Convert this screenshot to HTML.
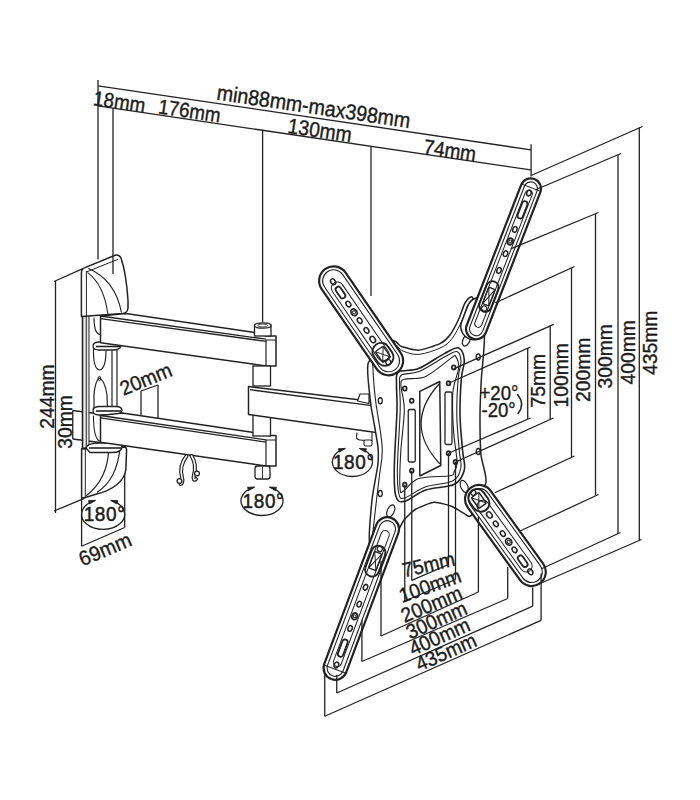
<!DOCTYPE html>
<html><head><meta charset="utf-8"><style>
html,body{margin:0;padding:0;background:#fff;}
svg{display:block;}
text{font-family:"Liberation Sans",sans-serif;}
</style></head><body>
<svg width="700" height="800" viewBox="0 0 700 800">
<rect width="700" height="800" fill="#fff"/>
<line x1="98.00" y1="85.80" x2="531.00" y2="149.88" stroke="#222222" stroke-width="1.3"/>
<line x1="98.00" y1="105.90" x2="531.00" y2="169.98" stroke="#222222" stroke-width="1.3"/>
<line x1="98.00" y1="80.00" x2="98.00" y2="259.50" stroke="#222222" stroke-width="1.3"/>
<line x1="113.00" y1="108.12" x2="113.00" y2="274.00" stroke="#222222" stroke-width="1.3"/>
<line x1="262.60" y1="130.26" x2="262.60" y2="322.00" stroke="#222222" stroke-width="1.3"/>
<line x1="371.00" y1="146.30" x2="371.00" y2="296.00" stroke="#222222" stroke-width="1.3"/>
<line x1="531.10" y1="144.30" x2="531.10" y2="176.40" stroke="#222222" stroke-width="1.3"/>
<text x="0" y="0" font-size="18.8" text-anchor="start" fill="#1c1c1c" stroke="#1c1c1c" stroke-width="0.35" transform="translate(92.5 105) rotate(8.41866287779965) scale(1 1.1)">18mm</text>
<text x="0" y="0" font-size="18.8" text-anchor="start" fill="#1c1c1c" stroke="#1c1c1c" stroke-width="0.35" transform="translate(157.5 113.3) rotate(8.41866287779965) scale(1 1.1)">176mm</text>
<text x="0" y="0" font-size="19.65" text-anchor="start" fill="#1c1c1c" stroke="#1c1c1c" stroke-width="0.35" transform="translate(216 99.5) rotate(8.41866287779965) scale(1 1.1)">min88mm-max398mm</text>
<text x="0" y="0" font-size="19.3" text-anchor="start" fill="#1c1c1c" stroke="#1c1c1c" stroke-width="0.35" transform="translate(287 132.8) rotate(8.41866287779965) scale(1 1.1)">130mm</text>
<text x="0" y="0" font-size="19" text-anchor="start" fill="#1c1c1c" stroke="#1c1c1c" stroke-width="0.35" transform="translate(422.8 153.6) rotate(8.41866287779965) scale(1 1.1)">74mm</text>
<line x1="55.50" y1="281.00" x2="55.50" y2="513.00" stroke="#222222" stroke-width="1.3"/>
<line x1="54.00" y1="281.50" x2="82.90" y2="268.60" stroke="#222222" stroke-width="1.3"/>
<line x1="54.00" y1="511.00" x2="84.40" y2="498.40" stroke="#222222" stroke-width="1.3"/>
<text x="0" y="0" font-size="19.3" text-anchor="middle" fill="#1c1c1c" stroke="#1c1c1c" stroke-width="0.35" transform="translate(54 396.6) rotate(-90) scale(1.0 1.0)">244mm</text>
<line x1="72.75" y1="410.50" x2="72.75" y2="439.00" stroke="#222222" stroke-width="1.3"/>
<line x1="72.75" y1="410.50" x2="100.00" y2="414.00" stroke="#222222" stroke-width="1.3"/>
<line x1="72.75" y1="439.00" x2="100.00" y2="442.50" stroke="#222222" stroke-width="1.3"/>
<text x="0" y="0" font-size="19.3" text-anchor="middle" fill="#1c1c1c" stroke="#1c1c1c" stroke-width="0.35" transform="translate(72 422) rotate(-90) scale(1.0 1.0)">30mm</text>
<rect x="82.5" y="316" width="6.5" height="136" fill="#e9e9e9" stroke="none"/>
<path d="M82.5,316 L82.5,452" fill="none" stroke="#222222" stroke-width="1.6" stroke-linejoin="round" stroke-linecap="round"/>
<line x1="86.25" y1="316.00" x2="86.25" y2="452.00" stroke="#222222" stroke-width="1.0"/>
<line x1="89.00" y1="316.00" x2="89.00" y2="452.00" stroke="#222222" stroke-width="1.0"/>
<path d="M94,318 Q94,333 99.5,334.5" fill="none" stroke="#222222" stroke-width="1.1" stroke-linejoin="round" stroke-linecap="round"/>
<path d="M93.5,348 Q93,369 99.5,370 Q106,369 106,350" fill="none" stroke="#222222" stroke-width="1.2" stroke-linejoin="round" stroke-linecap="round"/>
<path d="M94,412 L94,395 Q95,381 99.5,378 Q105,381 107,395 L107.5,410" fill="none" stroke="#222222" stroke-width="1.2" stroke-linejoin="round" stroke-linecap="round"/>
<ellipse cx="99.4" cy="378.4" rx="1.4" ry="2.0" fill="none" stroke="#222222" stroke-width="1.0" transform="rotate(0 99.4 378.4)"/>
<path d="M93.5,416 Q93.5,438 99.5,441" fill="none" stroke="#222222" stroke-width="1.1" stroke-linejoin="round" stroke-linecap="round"/>
<path d="M81.4,316.4 L81.4,273 Q81.5,268.6 85,267.6 L115.7,255 Q119.5,254.5 121,258 Q126,272 128,300 L128,308 Q127.5,313 123,313.5 Z" fill="#fff" stroke="#222222" stroke-width="1.5" stroke-linejoin="round" stroke-linecap="round"/>
<line x1="86.40" y1="271.00" x2="86.40" y2="316.00" stroke="#222222" stroke-width="1.0"/>
<line x1="86.80" y1="271.80" x2="118.20" y2="259.20" stroke="#222222" stroke-width="1.0"/>
<path d="M87.9,272.9 Q104,285 107.9,314.3" fill="none" stroke="#222222" stroke-width="1.1" stroke-linejoin="round" stroke-linecap="round"/>
<path d="M88.6,268.6 Q115,280 121.4,312.1" fill="none" stroke="#222222" stroke-width="1.1" stroke-linejoin="round" stroke-linecap="round"/>
<line x1="113.00" y1="256.00" x2="113.00" y2="274.00" stroke="#222222" stroke-width="1.3"/>
<path d="M81.6,448.8 L124,446.9 Q126.6,447 126.6,450 L125.8,470 C124,482 112,490 97.5,493.8 L84.4,497.8 L81.6,497.5 Z" fill="#fff" stroke="#222222" stroke-width="1.5" stroke-linejoin="round" stroke-linecap="round"/>
<path d="M83,448.5 L125,446.5" fill="none" stroke="#222222" stroke-width="2.2" stroke-linejoin="round" stroke-linecap="round"/>
<line x1="85.30" y1="449.00" x2="85.30" y2="497.00" stroke="#222222" stroke-width="1.0"/>
<path d="M108.75,449 C108,470 100,485 86.5,495.5" fill="none" stroke="#222222" stroke-width="1.2" stroke-linejoin="round" stroke-linecap="round"/>
<path d="M120,448 C118,468 110,484 97.5,492" fill="none" stroke="#222222" stroke-width="1.2" stroke-linejoin="round" stroke-linecap="round"/>
<line x1="81.60" y1="497.50" x2="81.60" y2="546.25" stroke="#222222" stroke-width="1.3"/>
<line x1="124.70" y1="473.00" x2="124.70" y2="527.50" stroke="#222222" stroke-width="1.3"/>
<line x1="81.60" y1="546.25" x2="124.70" y2="527.50" stroke="#222222" stroke-width="1.3"/>
<text x="0" y="0" font-size="19.8" text-anchor="start" fill="#1c1c1c" stroke="#1c1c1c" stroke-width="0.35" transform="translate(82.5 566.5) rotate(-23) scale(1 1.05)">69mm</text>
<path d="M94.70,500.59 A21.5,15 0 1 0 111.50,500.59" fill="none" stroke="#222222" stroke-width="1.3"/>
<polygon points="95.66,500.31 89.46,504.02 88.44,500.57" fill="#222222" stroke="#222222" stroke-width="0.8" stroke-linejoin="round"/>
<polygon points="110.54,500.31 117.76,500.57 116.74,504.02" fill="#222222" stroke="#222222" stroke-width="0.8" stroke-linejoin="round"/>
<text x="0" y="0" font-size="19" text-anchor="middle" letter-spacing="0.6" fill="#1c1c1c" stroke="#1c1c1c" stroke-width="0.45" transform="translate(104.5 521.1999999999999) scale(1 1.06)">180°</text>
<path d="M253.79,487.27 A21,14.7 0 1 0 270.21,487.27" fill="none" stroke="#222222" stroke-width="1.3"/>
<polygon points="254.75,486.98 248.56,490.70 247.53,487.25" fill="#222222" stroke="#222222" stroke-width="0.8" stroke-linejoin="round"/>
<polygon points="269.25,486.98 276.47,487.25 275.44,490.70" fill="#222222" stroke="#222222" stroke-width="0.8" stroke-linejoin="round"/>
<text x="0" y="0" font-size="19" text-anchor="middle" letter-spacing="0.6" fill="#1c1c1c" stroke="#1c1c1c" stroke-width="0.45" transform="translate(263.4 507.6) scale(1 1.06)">180°</text>
<path d="M344.59,448.65 A20,14.5 0 1 0 360.21,448.65" fill="none" stroke="#222222" stroke-width="1.3"/>
<polygon points="345.54,448.36 339.38,452.14 338.32,448.70" fill="#222222" stroke="#222222" stroke-width="0.8" stroke-linejoin="round"/>
<polygon points="359.26,448.36 366.48,448.70 365.42,452.14" fill="#222222" stroke="#222222" stroke-width="0.8" stroke-linejoin="round"/>
<text x="0" y="0" font-size="19" text-anchor="middle" letter-spacing="0.6" fill="#1c1c1c" stroke="#1c1c1c" stroke-width="0.45" transform="translate(353.79999999999995 468.8) scale(1 1.06)">180°</text>
<line x1="141.00" y1="391.00" x2="141.00" y2="421.00" stroke="#222222" stroke-width="1.3"/>
<line x1="158.00" y1="385.00" x2="158.00" y2="418.00" stroke="#222222" stroke-width="1.3"/>
<line x1="141.00" y1="391.00" x2="158.00" y2="385.00" stroke="#222222" stroke-width="1.3"/>
<text x="0" y="0" font-size="19.5" text-anchor="start" fill="#1c1c1c" stroke="#1c1c1c" stroke-width="0.35" transform="translate(123.5 396) rotate(-22.5) scale(1 1.05)">20mm</text>
<line x1="112.00" y1="350.00" x2="112.00" y2="407.00" stroke="#222222" stroke-width="1.2"/>
<line x1="117.00" y1="350.00" x2="117.00" y2="407.00" stroke="#222222" stroke-width="1.2"/>
<path d="M93,346 Q93,342 100,342 L116,342 Q122,342 121,346 Q120,350 112,350 L99,350 Q93,350 93,346 Z" fill="#fff" stroke="#222222" stroke-width="1.3" stroke-linejoin="round" stroke-linecap="round"/>
<line x1="96.00" y1="346.50" x2="120.00" y2="346.50" stroke="#222222" stroke-width="1.6"/>
<path d="M93,410.5 Q93,406.5 100,406.5 L116,406.5 Q122,406.5 122,410.5 Q121,415 112,415 L99,415 Q93,415 93,410.5 Z" fill="#fff" stroke="#222222" stroke-width="1.3" stroke-linejoin="round" stroke-linecap="round"/>
<line x1="96.00" y1="411.00" x2="121.00" y2="411.00" stroke="#222222" stroke-width="1.6"/>
<path d="M86,448 Q87,443 100,443 L116,443 Q122,443 122,447.5 Q121,452.5 112,452.5 L90,452.5 Z" fill="#fff" stroke="#222222" stroke-width="1.3" stroke-linejoin="round" stroke-linecap="round"/>
<line x1="89.00" y1="448.00" x2="121.00" y2="448.00" stroke="#222222" stroke-width="1.6"/>
<polygon points="100.50,316.00 125.90,313.40 253.00,332.30 266.00,336.00 276.00,336.00 276.00,366.00 266.00,366.00 100.50,342.70" fill="#fff" stroke="#222222" stroke-width="1.5" stroke-linejoin="round"/>
<line x1="100.50" y1="316.00" x2="266.00" y2="339.20" stroke="#222222" stroke-width="1.3"/>
<line x1="100.50" y1="318.60" x2="266.00" y2="341.40" stroke="#222222" stroke-width="1.3"/>
<line x1="266.00" y1="340.00" x2="276.00" y2="340.00" stroke="#222222" stroke-width="1.0"/>
<line x1="266.00" y1="340.00" x2="266.00" y2="366.00" stroke="#222222" stroke-width="1.2"/>
<rect x="254.5" y="325" width="16.5" height="11" fill="#fff" stroke="#222222" stroke-width="1.3"/>
<ellipse cx="262.75" cy="325.5" rx="8.25" ry="2.6" fill="#fff" stroke="#222222" stroke-width="1.2" transform="rotate(0 262.75 325.5)"/>
<ellipse cx="262.75" cy="325.5" rx="5" ry="1.5" fill="none" stroke="#222222" stroke-width="0.9" transform="rotate(0 262.75 325.5)"/>
<rect x="253" y="366" width="17.5" height="20" fill="#fff" stroke="#222222" stroke-width="1.3"/>
<polygon points="100.50,415.50 122.40,413.10 252.00,432.30 266.00,435.50 276.00,435.50 276.00,466.00 266.00,466.00 100.50,442.30" fill="#fff" stroke="#222222" stroke-width="1.5" stroke-linejoin="round"/>
<line x1="100.50" y1="415.50" x2="266.00" y2="439.80" stroke="#222222" stroke-width="1.3"/>
<line x1="100.50" y1="417.80" x2="266.00" y2="442.10" stroke="#222222" stroke-width="1.3"/>
<line x1="266.00" y1="440.00" x2="276.00" y2="440.00" stroke="#222222" stroke-width="1.0"/>
<line x1="266.00" y1="440.00" x2="266.00" y2="466.00" stroke="#222222" stroke-width="1.2"/>
<rect x="253" y="415" width="17.5" height="21" fill="#fff" stroke="#222222" stroke-width="1.3"/>
<rect x="255" y="466" width="15" height="13" rx="2.5" fill="#fff" stroke="#222222" stroke-width="1.3"/>
<line x1="262.50" y1="467.00" x2="262.50" y2="479.00" stroke="#222222" stroke-width="0.9"/>
<polygon points="248.50,386.50 369.00,401.00 376.00,403.00 376.00,432.50 248.50,414.50" fill="#fff" stroke="#222222" stroke-width="1.5" stroke-linejoin="round"/>
<line x1="250.00" y1="389.70" x2="372.00" y2="405.70" stroke="#222222" stroke-width="1.3"/>
<polygon points="357.50,401.00 360.00,394.00 369.00,394.00 369.00,403.50" fill="#fff" stroke="#222222" stroke-width="1.2" stroke-linejoin="round"/>
<path d="M357,433 Q355,440 360,440 L372,441 L372,433" fill="#fff" stroke="#222222" stroke-width="1.1" stroke-linejoin="round" stroke-linecap="round"/>
<rect x="364" y="440" width="8" height="6" rx="1.5" fill="#fff" stroke="#222222" stroke-width="1.1"/>
<path d="M186.5,456 C182,462 180,470 182,477 C183,481 182,484 180.5,484" fill="none" stroke="#222222" stroke-width="4" stroke-linecap="round"/>
<path d="M186.5,456 C182,462 180,470 182,477 C183,481 182,484 180.5,484" fill="none" stroke="#fff" stroke-width="1.6" stroke-linecap="round"/>
<path d="M191.5,456 C195.5,462 195.5,470 193.8,476 C193,479 194,481 196,479" fill="none" stroke="#222222" stroke-width="4" stroke-linecap="round"/>
<path d="M191.5,456 C195.5,462 195.5,470 193.8,476 C193,479 194,481 196,479" fill="none" stroke="#fff" stroke-width="1.6" stroke-linecap="round"/>
<ellipse cx="179.5" cy="481" rx="2.4" ry="2.4" fill="#fff" stroke="#222222" stroke-width="1.3" transform="rotate(0 179.5 481)"/>
<ellipse cx="197" cy="473.5" rx="2.4" ry="2.4" fill="#fff" stroke="#222222" stroke-width="1.3" transform="rotate(0 197 473.5)"/>
<path d="M392.50,341.00 C395.82,339.35 398.79,345.58 401.40,346.50 C404.01,347.42 414.74,350.49 418.60,350.20 C422.46,349.91 436.86,345.12 440.00,343.60 C443.14,342.08 448.10,337.51 450.00,335.00 C451.90,332.49 457.50,321.70 459.00,318.50 C460.50,315.30 463.64,305.08 465.00,303.00 C466.36,300.92 470.67,294.50 472.60,297.70 C474.53,300.90 483.42,326.98 484.30,335.00 C485.18,343.02 481.83,369.90 481.40,377.90 C480.97,385.90 480.04,407.29 480.00,415.00 C479.96,422.71 480.40,448.30 481.00,455.00 C481.60,461.70 486.96,475.97 486.00,482.00 C485.04,488.03 473.60,512.16 471.40,515.30 C469.20,518.44 465.94,514.28 464.00,513.40 C462.06,512.52 454.97,507.61 452.00,506.50 C449.03,505.39 437.90,502.05 434.30,502.30 C430.70,502.55 419.03,507.23 416.00,509.00 C412.97,510.77 406.07,517.51 404.00,520.00 C401.93,522.49 398.70,531.40 395.30,533.90 C391.90,536.40 372.33,548.39 370.00,545.00 C367.67,541.61 371.22,508.00 372.00,500.00 C372.78,492.00 377.20,470.25 377.80,465.00 C378.40,459.75 378.43,452.00 378.00,447.50 C377.57,443.00 374.23,424.38 373.50,420.00 C372.77,415.62 371.28,409.45 370.75,403.75 C370.22,398.05 366.02,369.27 368.20,363.00 C370.38,356.73 389.18,342.65 392.50,341.00 Z" fill="#fff" stroke="#222222" stroke-width="1.5" stroke-linejoin="round" stroke-linecap="round"/>
<path d="M397.00,345.50 C398.00,346.42 399.33,349.52 403.00,351.00 C406.67,352.48 412.67,354.97 419.00,354.40 C425.33,353.83 435.50,350.23 441.00,347.60 C446.50,344.97 448.58,342.95 452.00,338.60 C455.42,334.25 458.92,327.10 461.50,321.50 C464.08,315.90 466.50,307.75 467.50,305.00 " fill="none" stroke="#222222" stroke-width="1.0" stroke-linejoin="round" stroke-linecap="round"/>
<path d="M372.50,362.00 C372.75,365.83 373.42,378.04 374.00,385.00 C374.58,391.96 374.63,393.33 376.00,403.75 C377.37,414.17 381.62,435.62 382.20,447.50 C382.78,459.38 380.45,466.25 379.50,475.00 C378.55,483.75 377.75,489.17 376.50,500.00 C375.25,510.83 373.17,530.00 372.00,540.00 C370.83,550.00 369.92,556.67 369.50,560.00 " fill="none" stroke="#222222" stroke-width="1.1" stroke-linejoin="round" stroke-linecap="round"/>
<path d="M398.60,372.00 C402.28,369.43 410.98,371.67 418.60,368.60 C426.22,365.53 437.63,357.05 444.30,353.60 C450.97,350.15 455.27,346.83 458.60,347.90 C461.93,348.97 463.83,355.00 464.30,360.00 C464.77,365.00 462.12,368.73 461.40,377.90 C460.68,387.07 459.82,402.98 460.00,415.00 C460.18,427.02 461.78,440.83 462.50,450.00 C463.22,459.17 465.67,464.28 464.30,470.00 C462.93,475.72 460.73,480.97 454.30,484.30 C447.87,487.63 434.03,487.15 425.70,490.00 C417.37,492.85 409.30,500.45 404.30,501.40 C399.30,502.35 397.37,501.43 395.70,495.70 C394.03,489.97 394.08,481.28 394.30,467.00 C394.52,452.72 396.63,423.83 397.00,410.00 C397.37,396.17 396.23,390.33 396.50,384.00 C396.77,377.67 394.92,374.57 398.60,372.00 Z" fill="#fff" stroke="#222222" stroke-width="1.6" stroke-linejoin="round" stroke-linecap="round"/>
<path d="M401.50,375.00 C404.73,372.77 411.78,374.63 419.00,371.60 C426.22,368.57 438.50,360.15 444.80,356.80 C451.10,353.45 454.10,350.80 456.80,351.50 C459.50,352.20 460.77,356.58 461.00,361.00 C461.23,365.42 458.90,369.00 458.20,378.00 C457.50,387.00 456.63,403.00 456.80,415.00 C456.97,427.00 458.53,441.17 459.20,450.00 C459.87,458.83 461.92,462.83 460.80,468.00 C459.68,473.17 458.43,477.83 452.50,481.00 C446.57,484.17 433.20,484.17 425.20,487.00 C417.20,489.83 408.90,496.92 404.50,498.00 C400.10,499.08 399.98,498.67 398.80,493.50 C397.62,488.33 397.17,480.92 397.40,467.00 C397.63,453.08 399.83,423.67 400.20,410.00 C400.57,396.33 399.38,390.83 399.60,385.00 C399.82,379.17 398.27,377.23 401.50,375.00 Z" fill="none" stroke="#222222" stroke-width="1.1" stroke-linejoin="round" stroke-linecap="round"/>
<path d="M404.30,379.30 C408.42,377.70 417.85,379.97 425.70,376.40 C433.55,372.83 446.40,361.23 451.40,357.90 C456.40,354.57 454.50,354.72 455.70,356.40 C456.90,358.08 459.07,362.05 458.60,368.00 C458.13,373.95 453.75,381.77 452.90,392.10 C452.05,402.43 452.82,418.35 453.50,430.00 C454.18,441.65 456.92,455.00 457.00,462.00 C457.08,469.00 455.17,469.72 454.00,472.00 C452.83,474.28 455.90,474.60 450.00,475.70 C444.10,476.80 426.35,476.05 418.60,478.60 C410.85,481.15 406.60,489.43 403.50,491.00 C400.40,492.57 400.47,494.35 400.00,488.00 C399.53,481.65 399.98,465.90 400.70,452.90 C401.42,439.90 404.25,421.15 404.30,410.00 C404.35,398.85 401.00,391.12 401.00,386.00 C401.00,380.88 400.18,380.90 404.30,379.30 Z" fill="none" stroke="#222222" stroke-width="1.1" stroke-linejoin="round" stroke-linecap="round"/>
<polygon points="419.80,391.30 439.75,381.50 440.80,465.50 419.80,476.00" fill="none" stroke="#222222" stroke-width="1.5" stroke-linejoin="round"/>
<path d="M439,384 Q403,424 439.5,463.5" fill="none" stroke="#222222" stroke-width="1.2" stroke-linejoin="round" stroke-linecap="round"/>
<rect x="408.25" y="409.5" width="7" height="52.5" rx="1.5" fill="none" stroke="#222222" stroke-width="1.3"/>
<rect x="445" y="392" width="7" height="52.5" rx="1.5" fill="none" stroke="#222222" stroke-width="1.3"/>
<ellipse cx="404.75" cy="388.5" rx="1.9" ry="2.1" fill="none" stroke="#222222" stroke-width="1.7" transform="rotate(0 404.75 388.5)"/>
<ellipse cx="411.75" cy="400.75" rx="1.9" ry="2.1" fill="none" stroke="#222222" stroke-width="1.7" transform="rotate(0 411.75 400.75)"/>
<ellipse cx="453.75" cy="367.5" rx="1.9" ry="2.1" fill="none" stroke="#222222" stroke-width="1.7" transform="rotate(0 453.75 367.5)"/>
<ellipse cx="448.5" cy="383.25" rx="1.9" ry="2.1" fill="none" stroke="#222222" stroke-width="1.7" transform="rotate(0 448.5 383.25)"/>
<ellipse cx="448.5" cy="453.25" rx="1.9" ry="2.1" fill="none" stroke="#222222" stroke-width="1.7" transform="rotate(0 448.5 453.25)"/>
<ellipse cx="455.5" cy="462" rx="1.9" ry="2.1" fill="none" stroke="#222222" stroke-width="1.7" transform="rotate(0 455.5 462)"/>
<ellipse cx="411.75" cy="470.75" rx="1.9" ry="2.1" fill="none" stroke="#222222" stroke-width="1.7" transform="rotate(0 411.75 470.75)"/>
<ellipse cx="404.75" cy="484.75" rx="1.9" ry="2.1" fill="none" stroke="#222222" stroke-width="1.7" transform="rotate(0 404.75 484.75)"/>
<ellipse cx="380.25" cy="400.75" rx="2.0" ry="3.0" fill="none" stroke="#222222" stroke-width="1.3" transform="rotate(0 380.25 400.75)"/>
<ellipse cx="380.25" cy="493.5" rx="2.0" ry="3.0" fill="none" stroke="#222222" stroke-width="1.3" transform="rotate(0 380.25 493.5)"/>
<ellipse cx="478.25" cy="357" rx="2.0" ry="3.0" fill="none" stroke="#222222" stroke-width="1.3" transform="rotate(0 478.25 357)"/>
<ellipse cx="478.25" cy="451.5" rx="2.0" ry="3.0" fill="none" stroke="#222222" stroke-width="1.3" transform="rotate(0 478.25 451.5)"/>
<ellipse cx="466.5" cy="340" rx="3.4" ry="6.5" fill="none" stroke="#222222" stroke-width="1.3" transform="rotate(25 466.5 340)"/>
<ellipse cx="464.25" cy="486.5" rx="3.4" ry="6.5" fill="none" stroke="#222222" stroke-width="1.2" transform="rotate(-25 464.25 486.5)"/>
<ellipse cx="390.75" cy="511" rx="3.4" ry="6.5" fill="none" stroke="#222222" stroke-width="1.2" transform="rotate(25 390.75 511)"/>
<g transform="translate(361.1 320.8) rotate(55.5)">
<rect x="-63.0" y="-14.5" width="126" height="29" rx="14.5" fill="#fff" stroke="#222222" stroke-width="2.2"/>
<rect x="-59.5" y="-11.0" width="119.0" height="22.0" rx="11.0" fill="none" stroke="#222222" stroke-width="1.1"/>
<rect x="-46.5" y="-5.09" width="93.0" height="12.18" rx="6.09" fill="none" stroke="#222222" stroke-width="1.0"/>
<ellipse cx="-48.0" cy="1.0" rx="3.1" ry="2.2319999999999998" fill="none" stroke="#222222" stroke-width="1.5"/>
<rect x="-41.5" y="-1.7000000000000002" width="13.0" height="5.4" rx="2.7" fill="none" stroke="#222222" stroke-width="1.8"/>
<ellipse cx="-21.0" cy="1.0" rx="3" ry="2.16" fill="none" stroke="#222222" stroke-width="1.5"/>
<ellipse cx="-11.0" cy="1.0" rx="3.6" ry="2.8800000000000003" fill="none" stroke="#222222" stroke-width="1.7"/>
<ellipse cx="-11.0" cy="1.0" rx="1.62" ry="1.4400000000000002" fill="none" stroke="#222222" stroke-width="1.0"/>
<ellipse cx="-1.0" cy="1.0" rx="3" ry="2.16" fill="none" stroke="#222222" stroke-width="1.5"/>
<ellipse cx="11.0" cy="1.0" rx="3" ry="2.16" fill="none" stroke="#222222" stroke-width="1.5"/>
<ellipse cx="22.0" cy="1.0" rx="3.4" ry="2.448" fill="none" stroke="#222222" stroke-width="1.5"/>
<rect x="28.0" y="-7.699999999999999" width="24" height="17.4" rx="8.7" fill="none" stroke="#222222" stroke-width="1.9"/>
<rect x="33.4" y="-3.785" width="13.200000000000001" height="9.57" rx="1.5" fill="none" stroke="#222222" stroke-width="1.4"/>
<line x1="33.4" y1="-3.785" x2="46.6" y2="5.785" stroke="#222222" stroke-width="1.0"/>
<line x1="33.4" y1="5.785" x2="46.6" y2="-3.785" stroke="#222222" stroke-width="1.0"/>
<ellipse cx="49.6" cy="1.0" rx="2.6" ry="2.6" fill="none" stroke="#222222" stroke-width="1.3"/>
</g>
<g transform="translate(503.5 258.8) rotate(111.2)">
<rect x="43.5" y="-10.25" width="43.5" height="26.5" rx="13.25" fill="#fff" stroke="#222222" stroke-width="1.5"/>
<rect x="-85.5" y="-10.25" width="171" height="20.5" rx="10.25" fill="#fff" stroke="#222222" stroke-width="2.2"/>
<rect x="-82.0" y="-6.75" width="164.0" height="13.5" rx="6.75" fill="none" stroke="#222222" stroke-width="1.1"/>
<line x1="-76.275" y1="-10.25" x2="-76.275" y2="10.25" stroke="#222222" stroke-width="0.9"/>
<rect x="-73.25" y="-3.5875" width="146.5" height="7.175" rx="3.5875" fill="none" stroke="#222222" stroke-width="1.0"/>
<ellipse cx="-70.5" cy="0" rx="3.0" ry="2.16" fill="none" stroke="#222222" stroke-width="1.5"/>
<rect x="-61.5" y="-2.7" width="18" height="5.4" rx="2.7" fill="none" stroke="#222222" stroke-width="1.8"/>
<ellipse cx="-31.5" cy="0" rx="2.9" ry="2.088" fill="none" stroke="#222222" stroke-width="1.5"/>
<ellipse cx="-18.5" cy="0" rx="3.4" ry="2.72" fill="none" stroke="#222222" stroke-width="1.7"/>
<ellipse cx="-18.5" cy="0" rx="1.53" ry="1.36" fill="none" stroke="#222222" stroke-width="1.0"/>
<ellipse cx="-5.5" cy="0" rx="2.9" ry="2.088" fill="none" stroke="#222222" stroke-width="1.5"/>
<ellipse cx="12.5" cy="0" rx="2.9" ry="2.088" fill="none" stroke="#222222" stroke-width="1.5"/>
<rect x="24.5" y="-6.1499999999999995" width="32" height="12.299999999999999" rx="6.1499999999999995" fill="none" stroke="#222222" stroke-width="1.9"/>
<rect x="31.7" y="-3.3825" width="17.6" height="6.765" rx="1.5" fill="none" stroke="#222222" stroke-width="1.4"/>
<line x1="31.7" y1="-3.3825" x2="49.3" y2="3.3825" stroke="#222222" stroke-width="1.0"/>
<line x1="31.7" y1="3.3825" x2="49.3" y2="-3.3825" stroke="#222222" stroke-width="1.0"/>
<ellipse cx="53.3" cy="0" rx="2.6" ry="2.6" fill="none" stroke="#222222" stroke-width="1.3"/>
</g>
<g transform="translate(361.3 598.5) rotate(290.5)">
<rect x="-86.0" y="-11.75" width="172" height="23.5" rx="11.75" fill="#fff" stroke="#222222" stroke-width="2.2"/>
<rect x="-82.5" y="-8.25" width="165.0" height="16.5" rx="8.25" fill="none" stroke="#222222" stroke-width="1.1"/>
<line x1="-75.425" y1="-11.75" x2="-75.425" y2="11.75" stroke="#222222" stroke-width="0.9"/>
<rect x="-72.25" y="-4.1125" width="144.5" height="8.225" rx="4.1125" fill="none" stroke="#222222" stroke-width="1.0"/>
<ellipse cx="-71.0" cy="0" rx="3.0" ry="2.16" fill="none" stroke="#222222" stroke-width="1.5"/>
<rect x="-62.0" y="-2.7" width="18" height="5.4" rx="2.7" fill="none" stroke="#222222" stroke-width="1.8"/>
<ellipse cx="-32.0" cy="0" rx="2.9" ry="2.088" fill="none" stroke="#222222" stroke-width="1.5"/>
<ellipse cx="-19.0" cy="0" rx="3.4" ry="2.72" fill="none" stroke="#222222" stroke-width="1.7"/>
<ellipse cx="-19.0" cy="0" rx="1.53" ry="1.36" fill="none" stroke="#222222" stroke-width="1.0"/>
<ellipse cx="-6.0" cy="0" rx="2.9" ry="2.088" fill="none" stroke="#222222" stroke-width="1.5"/>
<ellipse cx="12.0" cy="0" rx="2.9" ry="2.088" fill="none" stroke="#222222" stroke-width="1.5"/>
<rect x="24.0" y="-7.05" width="32" height="14.1" rx="7.05" fill="none" stroke="#222222" stroke-width="1.9"/>
<rect x="31.2" y="-3.8775000000000004" width="17.6" height="7.755000000000001" rx="1.5" fill="none" stroke="#222222" stroke-width="1.4"/>
<line x1="31.2" y1="-3.8775000000000004" x2="48.8" y2="3.8775000000000004" stroke="#222222" stroke-width="1.0"/>
<line x1="31.2" y1="3.8775000000000004" x2="48.8" y2="-3.8775000000000004" stroke="#222222" stroke-width="1.0"/>
<ellipse cx="52.8" cy="0" rx="2.6" ry="2.6" fill="none" stroke="#222222" stroke-width="1.3"/>
</g>
<g transform="translate(505.4 535.5) rotate(234.2)">
<rect x="-59.0" y="-14.15" width="118" height="28.3" rx="14.15" fill="#fff" stroke="#222222" stroke-width="2.2"/>
<rect x="-55.5" y="-10.65" width="111.0" height="21.3" rx="10.65" fill="none" stroke="#222222" stroke-width="1.1"/>
<rect x="-42.85" y="-6.943" width="85.7" height="11.886" rx="5.943" fill="none" stroke="#222222" stroke-width="1.0"/>
<ellipse cx="-44.0" cy="-1.0" rx="3.1" ry="2.2319999999999998" fill="none" stroke="#222222" stroke-width="1.5"/>
<rect x="-37.5" y="-3.7" width="13.0" height="5.4" rx="2.7" fill="none" stroke="#222222" stroke-width="1.8"/>
<ellipse cx="-17.0" cy="-1.0" rx="3" ry="2.16" fill="none" stroke="#222222" stroke-width="1.5"/>
<ellipse cx="-7.0" cy="-1.0" rx="3.6" ry="2.8800000000000003" fill="none" stroke="#222222" stroke-width="1.7"/>
<ellipse cx="-7.0" cy="-1.0" rx="1.62" ry="1.4400000000000002" fill="none" stroke="#222222" stroke-width="1.0"/>
<ellipse cx="3.0" cy="-1.0" rx="3" ry="2.16" fill="none" stroke="#222222" stroke-width="1.5"/>
<ellipse cx="15.0" cy="-1.0" rx="3" ry="2.16" fill="none" stroke="#222222" stroke-width="1.5"/>
<ellipse cx="26.0" cy="-1.0" rx="3.4" ry="2.448" fill="none" stroke="#222222" stroke-width="1.5"/>
<rect x="32.0" y="-9.49" width="24" height="16.98" rx="8.49" fill="none" stroke="#222222" stroke-width="1.9"/>
<rect x="37.4" y="-5.6695" width="13.200000000000001" height="9.339" rx="1.5" fill="none" stroke="#222222" stroke-width="1.4"/>
<line x1="37.4" y1="-5.6695" x2="50.6" y2="3.6695" stroke="#222222" stroke-width="1.0"/>
<line x1="37.4" y1="3.6695" x2="50.6" y2="-5.6695" stroke="#222222" stroke-width="1.0"/>
<ellipse cx="53.6" cy="-1.0" rx="2.6" ry="2.6" fill="none" stroke="#222222" stroke-width="1.3"/>
</g>
<line x1="639.30" y1="127.50" x2="639.30" y2="540.50" stroke="#222222" stroke-width="1.3"/>
<line x1="618.00" y1="155.00" x2="618.00" y2="534.00" stroke="#222222" stroke-width="1.3"/>
<line x1="595.50" y1="214.00" x2="595.50" y2="495.50" stroke="#222222" stroke-width="1.3"/>
<line x1="571.50" y1="267.50" x2="571.50" y2="457.00" stroke="#222222" stroke-width="1.3"/>
<line x1="550.20" y1="326.00" x2="550.20" y2="419.00" stroke="#222222" stroke-width="1.3"/>
<line x1="527.70" y1="348.00" x2="527.70" y2="419.00" stroke="#222222" stroke-width="1.3"/>
<line x1="531.10" y1="175.50" x2="642.50" y2="126.50" stroke="#222222" stroke-width="1.3"/>
<line x1="535.00" y1="190.00" x2="621.00" y2="153.50" stroke="#222222" stroke-width="1.3"/>
<line x1="510.70" y1="248.90" x2="598.50" y2="212.50" stroke="#222222" stroke-width="1.3"/>
<line x1="495.30" y1="302.90" x2="574.50" y2="266.50" stroke="#222222" stroke-width="1.3"/>
<line x1="453.70" y1="368.90" x2="553.70" y2="324.30" stroke="#222222" stroke-width="1.3"/>
<line x1="448.50" y1="383.25" x2="530.50" y2="347.00" stroke="#222222" stroke-width="1.3"/>
<line x1="448.50" y1="453.25" x2="530.50" y2="418.00" stroke="#222222" stroke-width="1.3"/>
<line x1="455.50" y1="462.00" x2="553.50" y2="418.00" stroke="#222222" stroke-width="1.3"/>
<line x1="494.80" y1="492.75" x2="574.50" y2="456.00" stroke="#222222" stroke-width="1.3"/>
<line x1="520.00" y1="531.00" x2="598.50" y2="494.50" stroke="#222222" stroke-width="1.3"/>
<line x1="541.00" y1="569.00" x2="620.50" y2="532.50" stroke="#222222" stroke-width="1.3"/>
<line x1="539.50" y1="583.75" x2="641.50" y2="539.50" stroke="#222222" stroke-width="1.3"/>
<text x="0" y="0" font-size="19.3" text-anchor="middle" fill="#1c1c1c" stroke="#1c1c1c" stroke-width="0.35" transform="translate(545 380.75) rotate(-90) scale(1 1.08)">75mm</text>
<text x="0" y="0" font-size="19.3" text-anchor="middle" fill="#1c1c1c" stroke="#1c1c1c" stroke-width="0.35" transform="translate(567.6 375.25) rotate(-90) scale(1 1.08)">100mm</text>
<text x="0" y="0" font-size="19.3" text-anchor="middle" fill="#1c1c1c" stroke="#1c1c1c" stroke-width="0.35" transform="translate(589.5 369.75) rotate(-90) scale(1 1.08)">200mm</text>
<text x="0" y="0" font-size="19.3" text-anchor="middle" fill="#1c1c1c" stroke="#1c1c1c" stroke-width="0.35" transform="translate(612 356.25) rotate(-90) scale(1 1.08)">300mm</text>
<text x="0" y="0" font-size="19.3" text-anchor="middle" fill="#1c1c1c" stroke="#1c1c1c" stroke-width="0.35" transform="translate(635.25 352.4) rotate(-90) scale(1 1.08)">400mm</text>
<text x="0" y="0" font-size="19.3" text-anchor="middle" fill="#1c1c1c" stroke="#1c1c1c" stroke-width="0.35" transform="translate(657 342.75) rotate(-90) scale(1 1.08)">435mm</text>
<text x="0" y="0" font-size="18.6" text-anchor="start" fill="#1c1c1c" stroke="#1c1c1c" stroke-width="0.35" transform="translate(479.5 399.5) rotate(0) scale(1 1.05)">+20°</text>
<text x="0" y="0" font-size="18.6" text-anchor="start" fill="#1c1c1c" stroke="#1c1c1c" stroke-width="0.35" transform="translate(481.5 416.5) rotate(0) scale(1 1.05)">-20°</text>
<path d="M517.5,394.5 Q525.5,404 518,413.5" fill="none" stroke="#222222" stroke-width="1.5" stroke-linejoin="round" stroke-linecap="round"/>
<line x1="324.75" y1="673.50" x2="324.75" y2="716.25" stroke="#222222" stroke-width="1.3"/>
<line x1="541.10" y1="573.40" x2="541.10" y2="620.30" stroke="#222222" stroke-width="1.3"/>
<line x1="324.75" y1="716.25" x2="541.10" y2="620.30" stroke="#222222" stroke-width="1.3"/>
<line x1="336.75" y1="675.00" x2="336.75" y2="693.00" stroke="#222222" stroke-width="1.3"/>
<line x1="532.70" y1="587.60" x2="532.70" y2="606.20" stroke="#222222" stroke-width="1.3"/>
<line x1="336.75" y1="693.00" x2="532.70" y2="606.20" stroke="#222222" stroke-width="1.3"/>
<line x1="361.90" y1="619.75" x2="361.90" y2="661.50" stroke="#222222" stroke-width="1.3"/>
<line x1="507.70" y1="567.00" x2="507.70" y2="598.50" stroke="#222222" stroke-width="1.3"/>
<line x1="361.90" y1="661.50" x2="507.70" y2="598.50" stroke="#222222" stroke-width="1.3"/>
<line x1="381.00" y1="561.00" x2="381.00" y2="636.00" stroke="#222222" stroke-width="1.3"/>
<line x1="478.40" y1="517.00" x2="478.40" y2="592.00" stroke="#222222" stroke-width="1.3"/>
<line x1="381.00" y1="636.00" x2="478.40" y2="592.00" stroke="#222222" stroke-width="1.3"/>
<line x1="404.75" y1="484.75" x2="404.75" y2="601.00" stroke="#222222" stroke-width="1.3"/>
<line x1="455.50" y1="462.00" x2="455.50" y2="579.50" stroke="#222222" stroke-width="1.3"/>
<line x1="404.75" y1="601.00" x2="455.50" y2="579.50" stroke="#222222" stroke-width="1.3"/>
<line x1="411.75" y1="470.75" x2="411.75" y2="580.40" stroke="#222222" stroke-width="1.3"/>
<line x1="448.50" y1="453.25" x2="448.50" y2="564.50" stroke="#222222" stroke-width="1.3"/>
<line x1="411.75" y1="580.40" x2="448.50" y2="564.50" stroke="#222222" stroke-width="1.3"/>
<text x="0" y="0" font-size="19.3" text-anchor="start" fill="#1c1c1c" stroke="#1c1c1c" stroke-width="0.35" transform="translate(404 577.5) rotate(-13) scale(1 1.06)">75mm</text>
<text x="0" y="0" font-size="19.3" text-anchor="start" fill="#1c1c1c" stroke="#1c1c1c" stroke-width="0.35" transform="translate(402 603) rotate(-19.5) scale(1 1.06)">100mm</text>
<text x="0" y="0" font-size="19.3" text-anchor="start" fill="#1c1c1c" stroke="#1c1c1c" stroke-width="0.35" transform="translate(404.5 623) rotate(-22.5) scale(1 1.06)">200mm</text>
<text x="0" y="0" font-size="19.3" text-anchor="start" fill="#1c1c1c" stroke="#1c1c1c" stroke-width="0.35" transform="translate(410 639.5) rotate(-24) scale(1 1.06)">300mm</text>
<text x="0" y="0" font-size="19.3" text-anchor="start" fill="#1c1c1c" stroke="#1c1c1c" stroke-width="0.35" transform="translate(413 656) rotate(-24) scale(1 1.06)">400mm</text>
<text x="0" y="0" font-size="19.3" text-anchor="start" fill="#1c1c1c" stroke="#1c1c1c" stroke-width="0.35" transform="translate(419.5 671.5) rotate(-24) scale(1 1.06)">435mm</text>
</svg></body></html>
